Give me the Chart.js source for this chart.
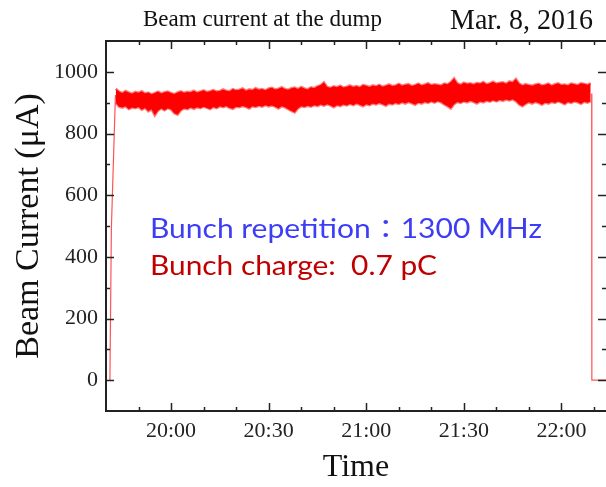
<!DOCTYPE html>
<html>
<head>
<meta charset="utf-8">
<script src="https://cdn.jsdelivr.net/npm/chart.js@4"></script>
<style>
  html, body { margin: 0; padding: 0; background: #fff; }
</style>
</head>
<body>
<canvas id="myChart" width="606" height="487"></canvas>
<script>
// time axis is in minutes relative to 20:00
const xMin = -20;      // 19:40
const xMax = 133.7;    // ~22:13
const xTickValues = [-10, 0, 10, 20, 30, 40, 50, 60, 70, 80, 90, 100, 110, 120, 130];
const yTickValues = [0, 100, 200, 300, 400, 500, 600, 700, 800, 900, 1000];

// beam switched on / off
const riseTimes = [-18.8, -18.35, -17.1];
const riseValues = [0, 490, 925];
const fallTimes = [129.3, 129.35, 133.7];
const fallValues = [930, 0, 0];

// noisy band while the beam is on: one sample per minute from bandStart
const bandStart = -17;
const bandTop = [
  945, 936, 931, 938, 933, 929, 935, 932, 937, 930,
  933, 927, 931, 936, 930, 934, 936, 931, 928, 933,
  937, 932, 935, 934, 939, 933, 936, 940, 935, 937,
  941, 936, 938, 943, 939, 937, 944, 940, 942, 946,
  939, 943, 941, 947, 942, 944, 940, 946, 948, 943,
  945, 950, 944, 942, 947, 949, 944, 951, 946, 943,
  950, 947, 953, 957, 966, 951, 948, 953, 950, 955,
  949, 952, 956, 951, 954, 950, 957, 955, 951, 956,
  953, 958, 952, 955, 959, 954, 956, 961, 955, 958,
  960, 954, 957, 962, 956, 959, 963, 957, 960, 958,
  956, 962, 960, 967, 979, 963, 958, 965, 961, 963,
  959, 964, 962, 967, 960, 963, 968, 962, 965, 966,
  961, 969, 966, 977, 962, 956, 960, 957, 955, 959,
  961, 956, 958, 962, 955, 960, 963, 957, 959, 956,
  962, 960, 957, 963, 961, 958, 963
];
const bandBottom = [
  900, 887, 884, 888, 879, 884, 882, 886, 877, 883,
  872, 879, 858, 874, 881, 875, 882, 878, 866, 861,
  875, 881, 879, 884, 880, 885, 882, 887, 883, 879,
  886, 882, 888, 885, 889, 883, 880, 887, 885, 889,
  886, 881, 888, 886, 890, 887, 892, 888, 891, 887,
  881, 888, 885, 879, 873, 868, 881, 888, 886, 890,
  887, 892, 889, 894, 890, 895, 891, 885, 892, 889,
  894, 891, 896, 892, 897, 893, 888, 895, 892, 897,
  894, 899, 895, 890, 897, 894, 899, 896, 901, 897,
  902, 898, 893, 900, 897, 902, 899, 904, 900, 905,
  901, 894, 888, 881, 895, 902, 899, 904, 901, 906,
  902, 897, 904, 901, 906, 903, 908, 904, 909, 906,
  910, 907, 911, 905, 894, 888, 896, 901, 897, 902,
  899, 893, 900, 897, 902, 899, 904, 900, 895, 902,
  899, 904, 901, 896, 903, 900, 905
];

const serif = '"Liberation Serif", "Times New Roman", serif';

function toPoints(xs, ys) {
  return ys.map((v, i) => ({ x: xs[i], y: v }));
}
const topPoints = bandTop.map((v, i) => ({ x: bandStart + i, y: v }));
const bottomPoints = bandBottom.map((v, i) => ({ x: bandStart + i, y: v }));

function fmtTime(m) {
  const t = 20 * 60 + m;
  const h = Math.floor(t / 60);
  const mm = t % 60;
  return h + ':' + (mm < 10 ? '0' : '') + mm;
}

function fitText(ctx, text, x, base, w, font, color) {
  ctx.save();
  ctx.font = font;
  ctx.fillStyle = color;
  ctx.textAlign = 'left';
  ctx.textBaseline = 'alphabetic';
  const s = w / ctx.measureText(text).width;
  ctx.translate(x, base);
  ctx.scale(s, 1);
  ctx.fillText(text, 0, 0);
  ctx.restore();
}

// frame with inward ticks + the free texts
const framePlugin = {
  id: 'frame',
  afterDraw(chart) {
    const { ctx, chartArea: a, scales: { x, y } } = chart;
    ctx.save();
    ctx.strokeStyle = '#222';
    ctx.lineWidth = 2;
    ctx.beginPath();
    ctx.moveTo(a.right + 2, a.top);
    ctx.lineTo(a.left, a.top);
    ctx.lineTo(a.left, a.bottom);
    ctx.lineTo(a.right + 2, a.bottom);
    ctx.stroke();

    ctx.lineWidth = 1.5;
    ctx.beginPath();
    x.ticks.forEach(t => {
      const px = Math.round(x.getPixelForValue(t.value)) + 0.5;
      const len = t.value % 30 === 0 ? 8 : 4;
      ctx.moveTo(px, a.bottom); ctx.lineTo(px, a.bottom - len);
      ctx.moveTo(px, a.top); ctx.lineTo(px, a.top + len);
    });
    y.ticks.forEach(t => {
      const py = Math.round(y.getPixelForValue(t.value)) + 0.5;
      const len = t.value % 200 === 0 ? 8 : 4;
      ctx.moveTo(a.left, py); ctx.lineTo(a.left + len, py);
      ctx.moveTo(a.right, py); ctx.lineTo(a.right - len, py);
    });
    ctx.stroke();
    ctx.restore();

    fitText(ctx, 'Beam current at the dump', 143, 26, 239, '23px ' + serif, '#111');
    fitText(ctx, 'Mar. 8, 2016', 450, 29, 143, '29px ' + serif, '#111');
    const sans = 'Lato, "Noto Sans CJK TC", sans-serif';
    fitText(ctx, 'Bunch repetition：1300 MHz', 150, 238, 392, '26px ' + sans, '#3d3df5');
    fitText(ctx, 'Bunch charge:  0.7 pC', 150, 275, 287, '26px ' + sans, '#c00000');
  }
};

const ctx = document.getElementById('myChart').getContext('2d');

let myChart = new Chart(ctx, {
  type: 'line',
  data: {
    datasets: [
      {
        data: topPoints,
        borderColor: 'rgba(255,0,0,0.5)',
        borderWidth: 2.5,
        backgroundColor: '#ff0000',
        fill: '+1',
        pointRadius: 0
      },
      {
        data: bottomPoints,
        borderColor: 'rgba(255,0,0,0.5)',
        borderWidth: 2.5,
        pointRadius: 0,
        fill: false
      },
      {
        data: toPoints(riseTimes, riseValues),
        borderColor: 'rgba(255,40,40,0.8)',
        borderWidth: 1.2,
        pointRadius: 0,
        fill: false
      },
      {
        data: toPoints(fallTimes, fallValues),
        borderColor: 'rgba(255,40,40,0.8)',
        borderWidth: 1.2,
        pointRadius: 0,
        fill: false
      }
    ]
  },
  options: {
    responsive: false,
    animation: false,
    layout: { padding: { top: 41, right: 0, left: 0, bottom: 0 } },
    plugins: { legend: { display: false }, tooltip: { enabled: false } },
    scales: {
      x: {
        type: 'linear',
        min: xMin,
        max: xMax,
        afterBuildTicks: s => { s.ticks = xTickValues.map(v => ({ value: v })); },
        afterFit: s => { s.height = 76; },
        grid: { display: false, drawTicks: false, tickLength: 0 },
        border: { display: false },
        ticks: {
          autoSkip: false,
          maxRotation: 0,
          padding: 7,
          color: '#222',
          font: { family: serif, size: 22 },
          callback: v => (v % 30 === 0 ? fmtTime(v) : '')
        },
        title: {
          display: true,
          text: 'Time',
          color: '#111',
          font: { family: serif, size: 32 },
          padding: { top: 0, bottom: 0 }
        }
      },
      y: {
        min: -100,
        max: 1100,
        afterBuildTicks: s => { s.ticks = yTickValues.map(v => ({ value: v })); },
        afterFit: s => { s.width = 106; },
        grid: { display: false, drawTicks: false, tickLength: 0 },
        border: { display: false },
        ticks: {
          autoSkip: false,
          padding: 8,
          color: '#222',
          font: { family: serif, size: 22 },
          callback: v => (v % 200 === 0 ? String(v) : '')
        },
        title: {
          display: true,
          text: 'Beam Current (μA)',
          color: '#111',
          font: { family: serif, size: 34 },
          padding: { top: 9, bottom: 0 }
        }
      }
    }
  },
  plugins: [framePlugin]
});
</script>
</body>
</html>
